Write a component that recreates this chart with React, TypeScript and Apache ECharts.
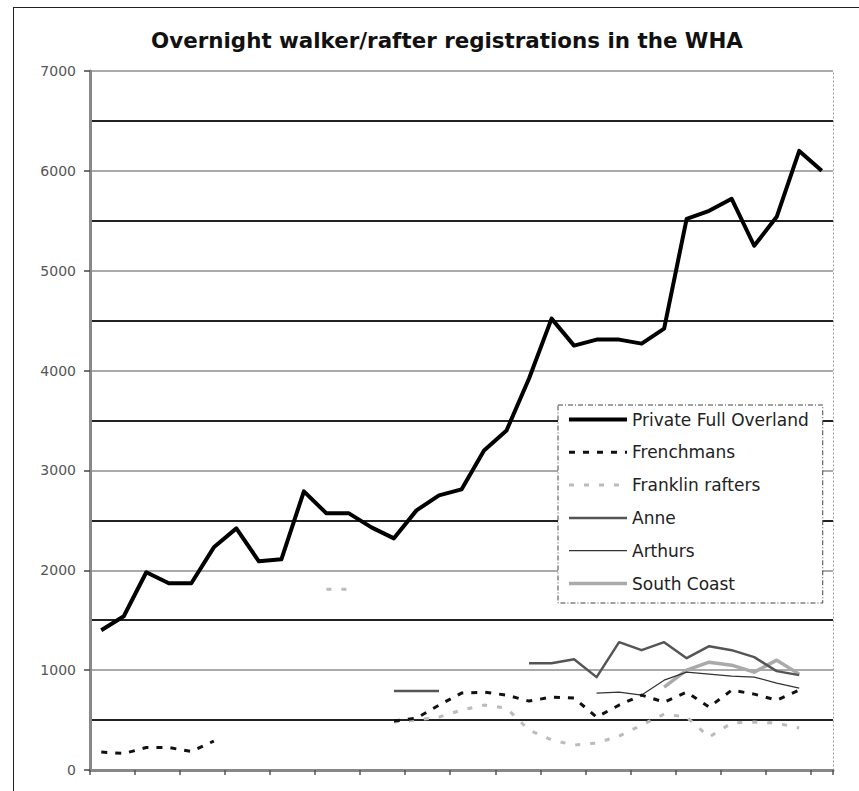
import React, { useEffect, useRef } from "react";
import * as echarts from "echarts";

const titleText = "Overnight walker/rafter registrations in the WHA";

const categories = [
  "1971", "1972", "1973", "1974", "1975", "1976", "1977", "1978", "1979", "1980", "1981",
  "1982", "1983", "1984", "1985", "1986", "1987", "1988", "1989", "1990", "1991", "1992",
  "1993", "1994", "1995", "1996", "1997", "1998", "1999", "2000", "2001", "2002", "2003",
];

const seriesNames = ["Private Full Overland", "Frenchmans", "Franklin rafters", "Anne", "Arthurs", "South Coast"];

const overland = [1400, 1540, 1980, 1870, 1870, 2230, 2420, 2090, 2110, 2790, 2570, 2570, 2430, 2320, 2600, 2750, 2810, 3200, 3400, 3920, 4520, 4250, 4310, 4310, 4270, 4420, 5520, 5600, 5720, 5250, 5540, 6200, 6000];

const frenchmans = [180, 165, 225, 225, 185, 290, null, null, null, null, null, null, null, 490, 520, 650, 770, 780, 750, 690, 730, 720, 530, 650, 750, 680, 780, 630, 800, 760, 700, 800, null];

const franklin = [null, null, null, null, null, null, null, null, null, null, 1810, 1810, null, 480, 500, 530, 600, 650, 620, 400, 300, 250, 270, 340, 450, 560, 530, 330, 470, 480, 470, 420, null];

const anne = [null, null, null, null, null, null, null, null, null, null, null, null, null, 790, 790, 790, null, null, null, 1070, 1070, 1110, 930, 1280, 1200, 1280, 1120, 1240, 1200, 1130, 990, 950, null];

const arthurs = [null, null, null, null, null, null, null, null, null, null, null, null, null, null, null, null, null, null, null, null, null, null, 770, 780, 750, 900, 980, 960, 940, 930, 870, 820, null];

const southCoast = [null, null, null, null, null, null, null, null, null, null, null, null, null, null, null, null, null, null, null, null, null, null, null, null, null, 830, 1000, 1080, 1050, 980, 1100, 960, null];

const yMin = 0;
const yMax = 7000;
const yStep = 1000;

export default function App() {
  const ref = useRef<HTMLDivElement>(null);

  useEffect(() => {
    document.body.style.margin = "0";
    const el = ref.current!;
    const chart = echarts.init(el, null, { renderer: "svg" });

    const styles: { color: string; width: number; type: any; z: number }[] = [
      { color: "#000", width: 4, type: "solid", z: 10 },
      { color: "#111", width: 3, type: [6, 8], z: 9 },
      { color: "#bbb", width: 3, type: [5, 10], z: 8 },
      { color: "#555", width: 2.5, type: "solid", z: 7 },
      { color: "#333", width: 1.2, type: "solid", z: 6 },
      { color: "#aaa", width: 3.5, type: "solid", z: 5 },
    ];
    const datas = [overland, frenchmans, franklin, anne, arthurs, southCoast];

    const series = seriesNames.map((name, i) => ({
      name,
      type: "line",
      data: datas[i],
      symbol: "none",
      connectNulls: false,
      z: styles[i].z,
      lineStyle: { color: styles[i].color, width: styles[i].width, type: styles[i].type, cap: "butt", join: "round" },
      itemStyle: { color: styles[i].color },
    }));

    const legendData = seriesNames.map((name, i) => ({
      name,
      lineStyle: { color: styles[i].color, width: styles[i].width, type: styles[i].type },
    }));

    const option: any = {
      animation: false,
      backgroundColor: "#fff",
      title: {
        text: titleText,
        left: 442,
        textAlign: "center",
        top: 25,
        textStyle: { fontFamily: "DejaVu Sans", fontWeight: "bold", fontSize: 21.4, color: "#111" },
      },
      grid: { left: 90, right: 26, top: 71, bottom: 21, containLabel: false },
      legend: {
        orient: "vertical",
        left: 558,
        top: 405,
        data: legendData,
        itemWidth: 58,
        itemHeight: 14,
        itemGap: 15.8,
        padding: [6, 14, 11, 9],
        backgroundColor: "#fff",
        borderColor: "#444",
        borderWidth: 1,
        borderType: [5, 2, 1, 2],
        itemStyle: { opacity: 0 },
        textStyle: { fontFamily: "DejaVu Sans", fontSize: 17, color: "#222" },
      },
      xAxis: {
        type: "category",
        data: categories,
        boundaryGap: true,
        axisLine: { show: true, lineStyle: { color: "#888", width: 3 } },
        axisTick: { show: true, length: 5, lineStyle: { color: "#555", width: 1.5 } },
        axisLabel: { show: false },
        splitLine: { show: false },
      },
      yAxis: [
        {
          type: "value",
          min: yMin,
          max: yMax,
          interval: yStep,
          axisLine: { show: true, lineStyle: { color: "#888", width: 3 } },
          axisTick: { show: true, length: 6, lineStyle: { color: "#444", width: 1.5 } },
          minorTick: { show: false, splitNumber: 2 },
          axisLabel: {
            margin: 14,
            fontFamily: "DejaVu Sans",
            fontSize: 14,
            color: "#555",
            formatter: (v: number) => String(v),
          },
          splitLine: { show: true, lineStyle: { color: "#aaa", width: 2 } },
          minorSplitLine: { show: true, lineStyle: { color: "#222", width: 2 } },
        },
        {
          type: "value",
          position: "right",
          min: yMin,
          max: yMax,
          interval: yStep,
          axisLine: { show: true, lineStyle: { color: "#999", width: 1, type: [1, 3] } },
          axisTick: { show: false },
          axisLabel: { show: false },
          splitLine: { show: false },
        },
      ],
      graphic: [
        { type: "line", shape: { x1: 13.5, y1: 7, x2: 13.5, y2: 791 }, style: { stroke: "#222", lineWidth: 1 } },
        { type: "line", shape: { x1: 13, y1: 7.5, x2: 859, y2: 7.5 }, style: { stroke: "#222", lineWidth: 1 } },
      ],
      series,
    };

    chart.setOption(option);
    return () => chart.dispose();
  }, []);

  return <div ref={ref} style={{ width: 859, height: 791 }} />;
}
